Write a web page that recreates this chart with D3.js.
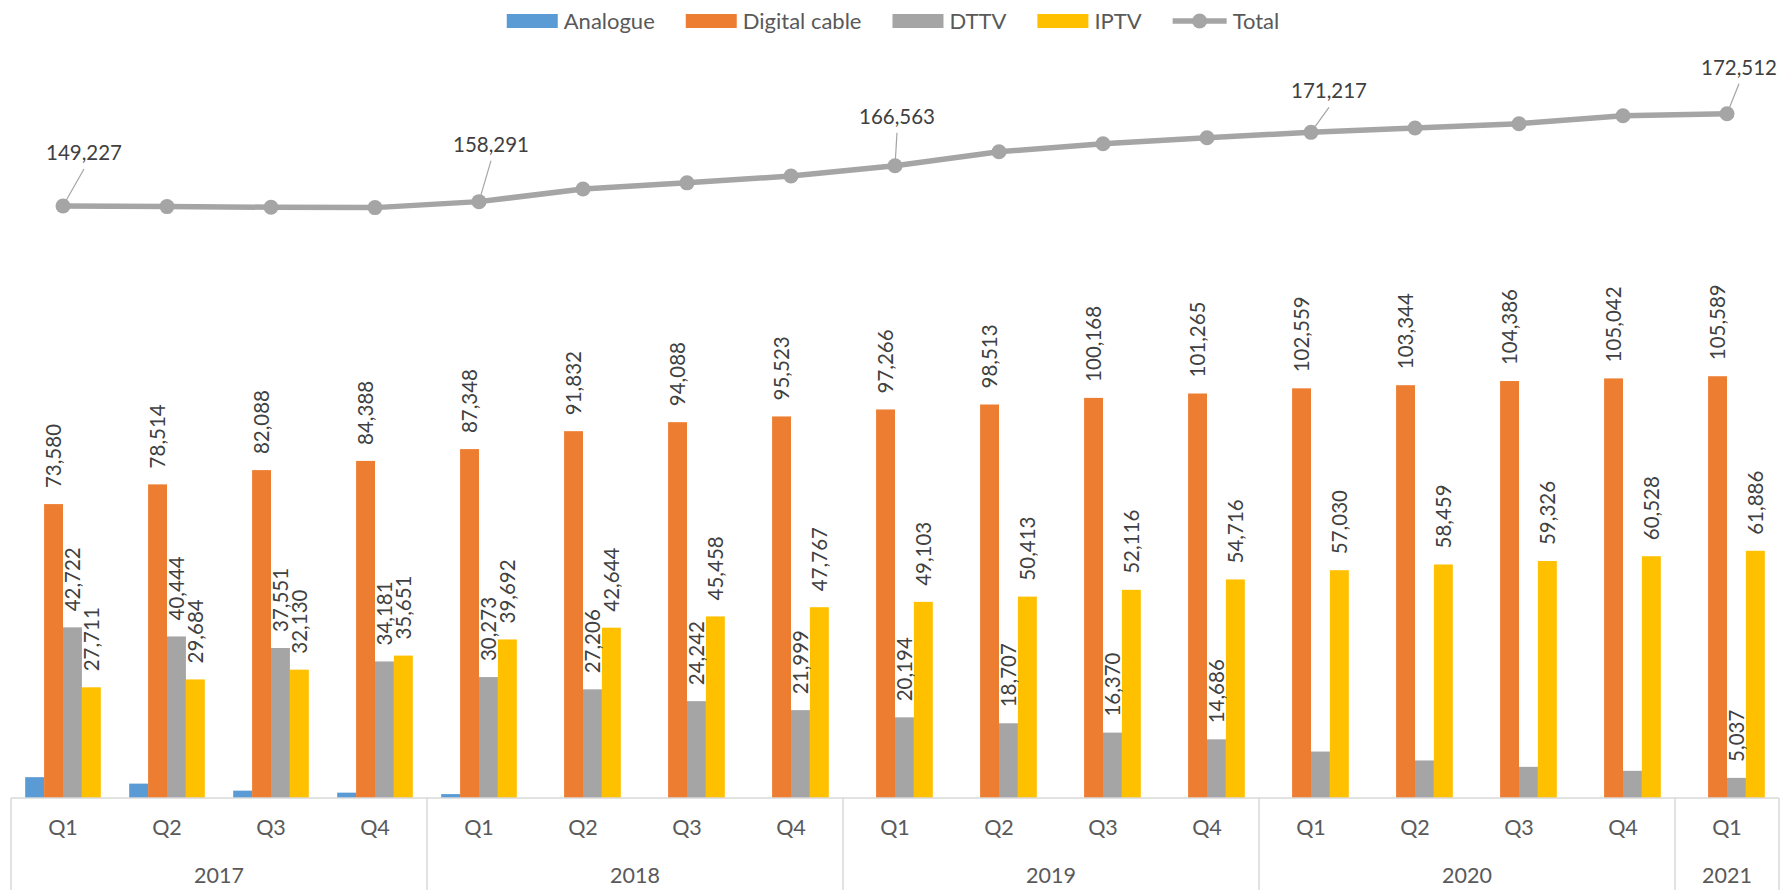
<!DOCTYPE html>
<html>
<head>
<meta charset="utf-8">
<script src="https://cdn.jsdelivr.net/npm/d3@7"></script>
<style>
  html, body { margin: 0; padding: 0; background: #fff; }
  svg { display: block; font-family: Lato, "Open Sans", sans-serif; }
</style>
</head>
<body>
<div id="chart"></div>
<script>
const FRAME_WIDTH = 1781;
const FRAME_HEIGHT = 890;

// categories
const quarters = ["Q1","Q2","Q3","Q4","Q1","Q2","Q3","Q4","Q1","Q2","Q3","Q4","Q1","Q2","Q3","Q4","Q1"];
const years = ["2017", "2018", "2019", "2020", "2021"];
const yearSpans = [4, 4, 4, 4, 1];

// series values
const analogue = [5214, 3600, 1840, 1340, 978, 0, 0, 0, 0, 0, 0, 0, 0, 0, 0, 0, 0];
const digitalCable = [73580, 78514, 82088, 84388, 87348, 91832, 94088, 95523, 97266, 98513, 100168, 101265, 102559, 103344, 104386, 105042, 105589];
const dttv = [42722, 40444, 37551, 34181, 30273, 27206, 24242, 21999, 20194, 18707, 16370, 14686, 11628, 9400, 7800, 6800, 5037];
const iptv = [27711, 29684, 32130, 35651, 39692, 42644, 45458, 47767, 49103, 50413, 52116, 54716, 57030, 58459, 59326, 60528, 61886];
// total line as drawn
const total = [148200, 148050, 147900, 147800, 149300, 152450, 154000, 155700, 158300, 161800, 163800, 165300, 166650, 167750, 168800, 170800, 171300];
// total labels shown at each Q1
const totalLabelIdx = [0, 4, 8, 12, 16];
const totalLabelVals = [149227, 158291, 166563, 171217, 172512];
// which bars carry a value label
const dttvLabelled = [1, 1, 1, 1, 1, 1, 1, 1, 1, 1, 1, 1, 0, 0, 0, 0, 1];

const SERIES = [
  {name: "Analogue", values: analogue, color: "#5B9BD5", labels: false},
  {name: "Digital cable", values: digitalCable, color: "#ED7D31", labels: true},
  {name: "DTTV", values: dttv, color: "#A5A5A5", labels: dttvLabelled},
  {name: "IPTV", values: iptv, color: "#FFC000", labels: true}
];
const TOTAL_COLOR = "#A5A5A5";

// manual label nudges for the total labels (dx, dy from point)
const TOTAL_LABEL_OFFSETS = [[21, -46], [12, -50], [2, -42], [18, -34], [12, -39]];

const PLOT = {left: 11, right: 1779, base: 798, bottom: 890};

const svg = d3.select("#chart")
  .append("svg")
    .attr("width", FRAME_WIDTH)
    .attr("height", FRAME_HEIGHT);

const X = d3.scaleBand()
  .domain(d3.range(quarters.length))
  .range([PLOT.left, PLOT.right]);

const BAR_W = X.bandwidth() / 5.5;
const X_INNER = d3.scaleBand()
  .domain(SERIES.map(s => s.name))
  .range([0.75 * BAR_W, 4.75 * BAR_W]);

const Y = d3.scaleLinear()
  .domain([0, 180000])
  .range([PLOT.base, 79]);

const fmt = d3.format(",");

// bars
SERIES.forEach((s) => {
  svg.append("g").selectAll("rect")
    .data(s.values)
    .enter()
    .append("rect")
      .attr("x", (d, i) => X(i) + X_INNER(s.name))
      .attr("y", (d) => Y(d))
      .attr("width", X_INNER.bandwidth())
      .attr("height", (d) => Y(0) - Y(d))
      .attr("fill", s.color);
});

// bar value labels, rotated
SERIES.forEach((s) => {
  if (!s.labels) return;
  const lab = s.values.map((v, i) => ({v: v, i: i}))
    .filter((d) => s.labels === true || s.labels[d.i]);
  svg.append("g").selectAll("text")
    .data(lab)
    .enter()
    .append("text")
      .attr("transform", (d) => "translate(" + (X(d.i) + X_INNER(s.name) + X_INNER.bandwidth() / 2) + "," + (Y(d.v) - 16) + ") rotate(-90)")
      .attr("dy", "0.36em")
      .attr("font-size", "20.5px")
      .attr("fill", "#404040")
      .text((d) => fmt(d.v));
});

// axis frame
const axisG = svg.append("g").attr("stroke", "#D9D9D9").attr("stroke-width", 1.5);
axisG.append("line")
  .attr("x1", PLOT.left).attr("x2", PLOT.right)
  .attr("y1", PLOT.base).attr("y2", PLOT.base);
let acc = 0;
const bounds = [0];
yearSpans.forEach((n) => { acc += n; bounds.push(acc); });
axisG.selectAll("line.sep")
  .data(bounds)
  .enter()
  .append("line")
    .attr("class", "sep")
    .attr("x1", (b) => b < quarters.length ? X(b) : PLOT.right)
    .attr("x2", (b) => b < quarters.length ? X(b) : PLOT.right)
    .attr("y1", PLOT.base)
    .attr("y2", PLOT.bottom);

// quarter labels
const qAxis = svg.append("g")
  .attr("transform", "translate(0," + PLOT.base + ")")
  .call(d3.axisBottom(X).tickSize(0).tickPadding(0).tickFormat((i) => quarters[i]));
qAxis.select(".domain").remove();
qAxis.selectAll("text")
  .attr("y", 37)
  .attr("dy", 0)
  .attr("font-size", "21.5px")
  .attr("font-family", "Lato, sans-serif")
  .attr("fill", "#595959");

// year labels
svg.append("g").selectAll("text")
  .data(years)
  .enter()
  .append("text")
    .attr("x", (d, k) => {
      const a = bounds[k], b = bounds[k + 1];
      return (X(a) + X(b - 1) + X.bandwidth()) / 2;
    })
    .attr("y", 883)
    .attr("text-anchor", "middle")
    .attr("font-size", "21.5px")
    .attr("fill", "#595959")
    .text((d) => d);

// total line
const line = d3.line()
  .x((d, i) => X(i) + X.bandwidth() / 2)
  .y((d) => Y(d));

svg.append("path")
  .datum(total)
  .attr("d", line)
  .attr("fill", "none")
  .attr("stroke", TOTAL_COLOR)
  .attr("stroke-width", 5.5)
  .attr("stroke-linejoin", "round");

svg.append("g").selectAll("circle")
  .data(total)
  .enter()
  .append("circle")
    .attr("cx", (d, i) => X(i) + X.bandwidth() / 2)
    .attr("cy", (d) => Y(d))
    .attr("r", 7.5)
    .attr("fill", TOTAL_COLOR);

// total labels with leader lines
totalLabelIdx.forEach((idx, k) => {
  const px = X(idx) + X.bandwidth() / 2;
  const py = Y(total[idx]);
  const lx = px + TOTAL_LABEL_OFFSETS[k][0];
  const ly = py + TOTAL_LABEL_OFFSETS[k][1];
  const sx = lx, sy = ly + 9;
  const ang = Math.atan2(py - sy, px - sx);
  svg.append("line")
    .attr("x1", sx).attr("y1", sy)
    .attr("x2", px - Math.cos(ang) * 6).attr("y2", py - Math.sin(ang) * 6)
    .attr("stroke", TOTAL_COLOR)
    .attr("stroke-width", 1.2);
  svg.append("text")
    .attr("x", lx)
    .attr("y", ly)
    .attr("text-anchor", "middle")
    .attr("font-size", "20.5px")
    .attr("fill", "#404040")
    .text(fmt(totalLabelVals[k]));
});

// legend
const legend = svg.append("g");
let lx = 0;
SERIES.forEach((s) => {
  legend.append("rect")
    .attr("x", lx).attr("y", -7)
    .attr("width", 51).attr("height", 14)
    .attr("fill", s.color);
  const t = legend.append("text")
    .attr("x", lx + 57).attr("y", 0)
    .attr("dy", "0.36em")
    .attr("font-size", "22px")
    .attr("fill", "#595959")
    .text(s.name);
  lx += 57 + t.node().getComputedTextLength() + 31;
});
legend.append("line")
  .attr("x1", lx).attr("x2", lx + 54)
  .attr("y1", 0).attr("y2", 0)
  .attr("stroke", TOTAL_COLOR)
  .attr("stroke-width", 5.5);
legend.append("circle")
  .attr("cx", lx + 27).attr("cy", 0).attr("r", 7.5)
  .attr("fill", TOTAL_COLOR);
const tt = legend.append("text")
  .attr("x", lx + 60).attr("y", 0)
  .attr("dy", "0.36em")
  .attr("font-size", "22px")
  .attr("fill", "#595959")
  .text("Total");
const legendW = lx + 60 + tt.node().getComputedTextLength();
legend.attr("transform", "translate(" + (893 - legendW / 2) + ",21)");
</script>
</body>
</html>
